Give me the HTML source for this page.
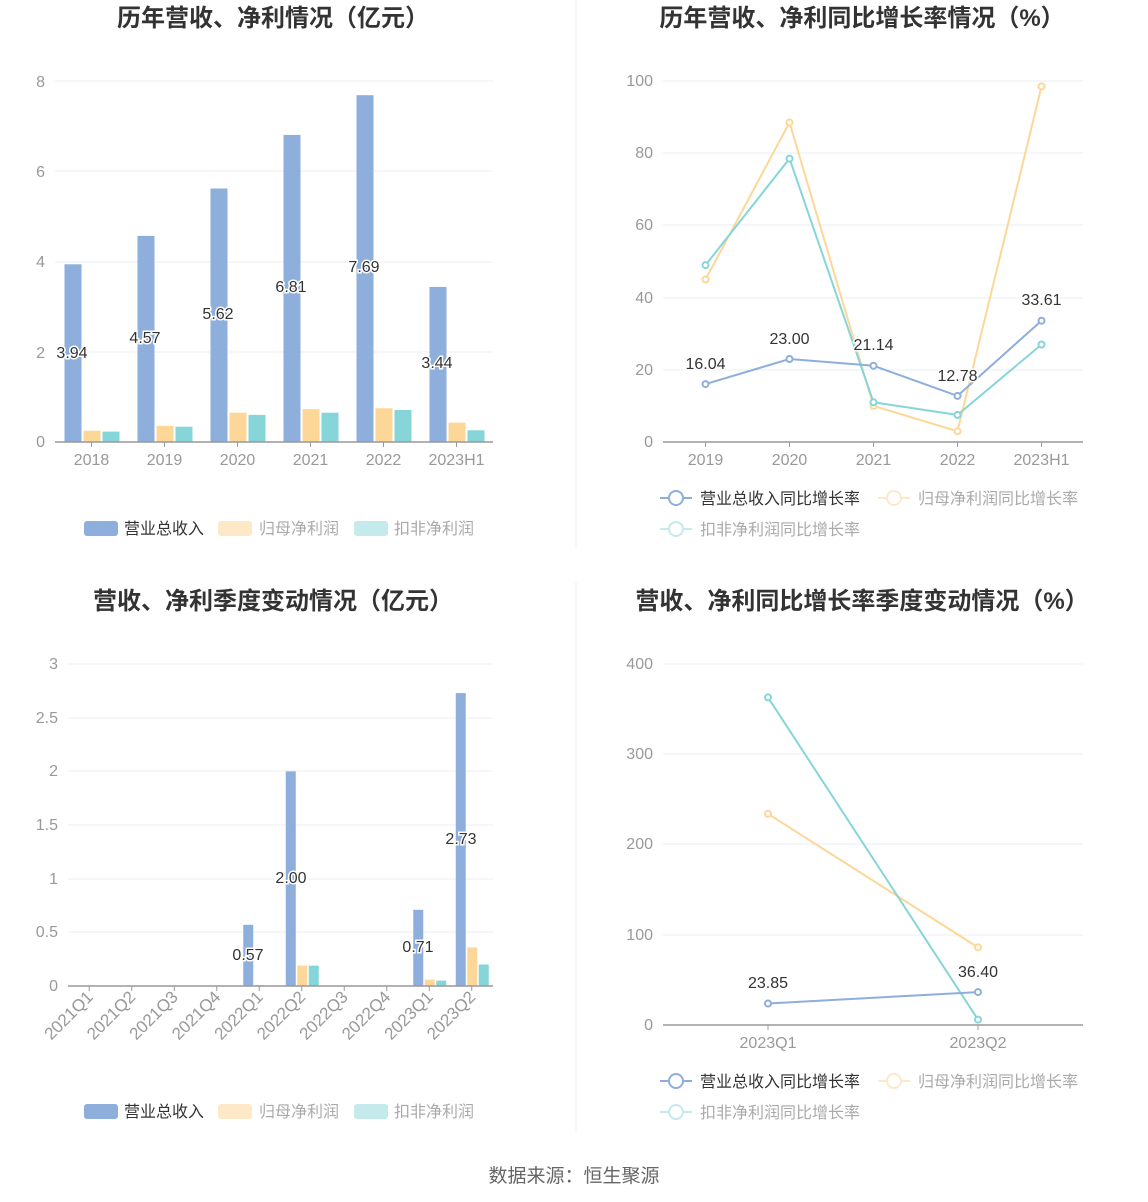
<!DOCTYPE html>
<html><head><meta charset="utf-8"><style>
html,body{margin:0;padding:0;background:#fff;}
svg{display:block;font-family:"Liberation Sans","Noto Sans CJK SC",sans-serif;}
.t{font-size:24px;font-weight:bold;fill:#333;text-anchor:middle}
.ax{font-size:16px;fill:#999}
.r{text-anchor:end}
.m{text-anchor:middle}
.g{stroke:#e8ecf5;stroke-width:1}
.lb{font-size:16px;fill:#333;text-anchor:middle;paint-order:stroke;stroke:#fff;stroke-width:3px}
.lg{font-size:16px;fill:#333}
.lgf{font-size:16px;fill:#aaa}
</style></head><body>
<svg width="1148" height="1202" viewBox="0 0 1148 1202">
<line x1="576" y1="0" x2="576" y2="548" stroke="#eee"/>
<line x1="576" y1="582" x2="576" y2="1132" stroke="#eee"/>
<text class="t" x="273" y="26">历年营收、净利情况（亿元）</text>
<text class="t" x="862" y="26">历年营收、净利同比增长率情况（%）</text>
<text class="t" x="273" y="609">营收、净利季度变动情况（亿元）</text>
<text class="t" x="862" y="609">营收、净利同比增长率季度变动情况（%）</text>

<!-- Top-left -->
<g>
<line class="g" x1="55" y1="81" x2="493" y2="81"/><line class="g" x1="55" y1="171" x2="493" y2="171"/>
<line class="g" x1="55" y1="262" x2="493" y2="262"/><line class="g" x1="55" y1="352" x2="493" y2="352"/>
<g class="ax r"><text x="45" y="87">8</text><text x="45" y="177">6</text><text x="45" y="267">4</text><text x="45" y="358">2</text><text x="45" y="447">0</text></g>
<g fill="#8eaedb">
<rect x="64.5" y="264.3" width="17" height="177.7"/><rect x="137.5" y="235.9" width="17" height="206.1"/>
<rect x="210.5" y="188.5" width="17" height="253.5"/><rect x="283.5" y="134.9" width="17" height="307.1"/>
<rect x="356.5" y="95.2" width="17" height="346.8"/><rect x="429.5" y="286.9" width="17" height="155.1"/></g>
<g fill="#fdd797">
<rect x="83.5" y="430.7" width="17" height="11.3"/><rect x="156.5" y="425.8" width="17" height="16.2"/>
<rect x="229.5" y="412.7" width="17" height="29.3"/><rect x="302.5" y="409.1" width="17" height="32.9"/>
<rect x="375.5" y="408.2" width="17" height="33.8"/><rect x="448.5" y="422.6" width="17" height="19.4"/></g>
<g fill="#86d5d8">
<rect x="102.5" y="431.6" width="17" height="10.4"/><rect x="175.5" y="426.7" width="17" height="15.3"/>
<rect x="248.5" y="414.9" width="17" height="27.1"/><rect x="321.5" y="412.7" width="17" height="29.3"/>
<rect x="394.5" y="410" width="17" height="32"/><rect x="467.5" y="430.3" width="17" height="11.7"/></g>
<line x1="55" y1="442" x2="493" y2="442" stroke="#999" stroke-width="1.5"/>
<g stroke="#999"><line x1="91.5" y1="442" x2="91.5" y2="447"/><line x1="164.5" y1="442" x2="164.5" y2="447"/><line x1="237.5" y1="442" x2="237.5" y2="447"/><line x1="310.5" y1="442" x2="310.5" y2="447"/><line x1="383.5" y1="442" x2="383.5" y2="447"/><line x1="456.5" y1="442" x2="456.5" y2="447"/></g>
<g class="ax m"><text x="91.5" y="465">2018</text><text x="164.5" y="465">2019</text><text x="237.5" y="465">2020</text><text x="310.5" y="465">2021</text><text x="383.5" y="465">2022</text><text x="456.5" y="465">2023H1</text></g>
<g class="lb"><text x="72" y="358">3.94</text><text x="145" y="343">4.57</text><text x="218" y="319">5.62</text><text x="291" y="292">6.81</text><text x="364" y="272">7.69</text><text x="437" y="368">3.44</text></g>
<rect x="84" y="521" width="34" height="15" rx="3" fill="#8eaedb"/><text class="lg" x="124" y="534">营业总收入</text>
<rect x="218" y="521" width="34" height="15" rx="3" fill="#fde9c7"/><text class="lgf" x="259" y="534">归母净利润</text>
<rect x="354" y="521" width="34" height="15" rx="3" fill="#c4eaeb"/><text class="lgf" x="394" y="534">扣非净利润</text>
</g>

<!-- Top-right -->
<g>
<line class="g" x1="663" y1="81" x2="1083" y2="81"/><line class="g" x1="663" y1="153" x2="1083" y2="153"/>
<line class="g" x1="663" y1="225" x2="1083" y2="225"/><line class="g" x1="663" y1="298" x2="1083" y2="298"/><line class="g" x1="663" y1="370" x2="1083" y2="370"/>
<g class="ax r"><text x="653" y="86">100</text><text x="653" y="158">80</text><text x="653" y="230">60</text><text x="653" y="303">40</text><text x="653" y="375">20</text><text x="653" y="447">0</text></g>
<line x1="663" y1="442" x2="1083" y2="442" stroke="#999" stroke-width="1.5"/>
<g stroke="#999"><line x1="705.5" y1="442" x2="705.5" y2="447"/><line x1="789.5" y1="442" x2="789.5" y2="447"/><line x1="873.5" y1="442" x2="873.5" y2="447"/><line x1="957.5" y1="442" x2="957.5" y2="447"/><line x1="1041.5" y1="442" x2="1041.5" y2="447"/></g>
<g class="ax m"><text x="705.5" y="465">2019</text><text x="789.5" y="465">2020</text><text x="873.5" y="465">2021</text><text x="957.5" y="465">2022</text><text x="1041.5" y="465">2023H1</text></g>
<g fill="#fff" stroke-width="2">
<polyline fill="none" stroke="#fdd797" points="705.5,279.5 789.5,122.5 873.5,405.9 957.5,431.2 1041.5,86.4"/>
<polyline fill="none" stroke="#86d5d8" points="705.5,265.1 789.5,158.6 873.5,402.3 957.5,414.9 1041.5,344.5"/>
<polyline fill="none" stroke="#8eaedb" points="705.5,384.1 789.5,359 873.5,365.7 957.5,395.9 1041.5,320.7"/>
<g stroke="#fdd797"><circle cx="705.5" cy="279.5" r="3"/><circle cx="789.5" cy="122.5" r="3"/><circle cx="873.5" cy="405.9" r="3"/><circle cx="957.5" cy="431.2" r="3"/><circle cx="1041.5" cy="86.4" r="3"/></g>
<g stroke="#86d5d8"><circle cx="705.5" cy="265.1" r="3"/><circle cx="789.5" cy="158.6" r="3"/><circle cx="873.5" cy="402.3" r="3"/><circle cx="957.5" cy="414.9" r="3"/><circle cx="1041.5" cy="344.5" r="3"/></g>
<g stroke="#8eaedb"><circle cx="705.5" cy="384.1" r="3"/><circle cx="789.5" cy="359" r="3"/><circle cx="873.5" cy="365.7" r="3"/><circle cx="957.5" cy="395.9" r="3"/><circle cx="1041.5" cy="320.7" r="3"/></g>
</g>
<g class="lb"><text x="705.5" y="369">16.04</text><text x="789.5" y="344">23.00</text><text x="873.5" y="350">21.14</text><text x="957.5" y="381">12.78</text><text x="1041.5" y="305">33.61</text></g>
<g fill="#fff" stroke-width="2">
<line x1="660" y1="498" x2="692" y2="498" stroke="#8eaedb"/><circle cx="676" cy="498" r="7" stroke="#8eaedb"/>
<line x1="878" y1="498" x2="910" y2="498" stroke="#fde9c7"/><circle cx="894" cy="498" r="7" stroke="#fde9c7"/>
<line x1="660" y1="529" x2="692" y2="529" stroke="#c4eaeb"/><circle cx="676" cy="529" r="7" stroke="#c4eaeb"/>
</g>
<text class="lg" x="700" y="504">营业总收入同比增长率</text>
<text class="lgf" x="918" y="504">归母净利润同比增长率</text>
<text class="lgf" x="700" y="535">扣非净利润同比增长率</text>
</g>

<!-- Bottom-left -->
<g>
<line class="g" x1="68" y1="664" x2="493" y2="664"/><line class="g" x1="68" y1="718" x2="493" y2="718"/>
<line class="g" x1="68" y1="771" x2="493" y2="771"/><line class="g" x1="68" y1="825" x2="493" y2="825"/>
<line class="g" x1="68" y1="879" x2="493" y2="879"/><line class="g" x1="68" y1="932" x2="493" y2="932"/>
<g class="ax r"><text x="58" y="669">3</text><text x="58" y="723">2.5</text><text x="58" y="776">2</text><text x="58" y="830">1.5</text><text x="58" y="884">1</text><text x="58" y="937">0.5</text><text x="58" y="991">0</text></g>
<g fill="#8eaedb"><rect x="243.25" y="924.8" width="10" height="61.2"/><rect x="285.75" y="771.4" width="10" height="214.6"/><rect x="413.25" y="909.8" width="10" height="76.2"/><rect x="455.75" y="693.1" width="10" height="292.9"/></g>
<g fill="#fdd797"><rect x="254.75" y="985" width="10" height="1"/><rect x="297.25" y="965.6" width="10" height="20.4"/><rect x="424.75" y="979.6" width="10" height="6.4"/><rect x="467.25" y="947.4" width="10" height="38.6"/></g>
<g fill="#86d5d8"><rect x="266.25" y="985.5" width="10" height="0.5"/><rect x="308.75" y="965.6" width="10" height="20.4"/><rect x="436.25" y="980.6" width="10" height="5.4"/><rect x="478.75" y="964.5" width="10" height="21.5"/></g>
<line x1="68" y1="986" x2="493" y2="986" stroke="#999" stroke-width="1.5"/>
<g stroke="#999"><line x1="89.25" y1="986" x2="89.25" y2="991"/><line x1="131.75" y1="986" x2="131.75" y2="991"/><line x1="174.25" y1="986" x2="174.25" y2="991"/><line x1="216.75" y1="986" x2="216.75" y2="991"/><line x1="259.25" y1="986" x2="259.25" y2="991"/><line x1="301.75" y1="986" x2="301.75" y2="991"/><line x1="344.25" y1="986" x2="344.25" y2="991"/><line x1="386.75" y1="986" x2="386.75" y2="991"/><line x1="429.25" y1="986" x2="429.25" y2="991"/><line x1="471.75" y1="986" x2="471.75" y2="991"/></g>
<g class="ax r" style="font-size:17px">
<text transform="translate(94,998) rotate(-45)">2021Q1</text><text transform="translate(136.5,998) rotate(-45)">2021Q2</text>
<text transform="translate(179,998) rotate(-45)">2021Q3</text><text transform="translate(221.5,998) rotate(-45)">2021Q4</text>
<text transform="translate(264,998) rotate(-45)">2022Q1</text><text transform="translate(306.5,998) rotate(-45)">2022Q2</text>
<text transform="translate(349,998) rotate(-45)">2022Q3</text><text transform="translate(391.5,998) rotate(-45)">2022Q4</text>
<text transform="translate(434,998) rotate(-45)">2023Q1</text><text transform="translate(476.5,998) rotate(-45)">2023Q2</text></g>
<g class="lb"><text x="248" y="960">0.57</text><text x="291" y="883">2.00</text><text x="418" y="952">0.71</text><text x="461" y="844">2.73</text></g>
<rect x="84" y="1104" width="34" height="15" rx="3" fill="#8eaedb"/><text class="lg" x="124" y="1117">营业总收入</text>
<rect x="218" y="1104" width="34" height="15" rx="3" fill="#fde9c7"/><text class="lgf" x="259" y="1117">归母净利润</text>
<rect x="354" y="1104" width="34" height="15" rx="3" fill="#c4eaeb"/><text class="lgf" x="394" y="1117">扣非净利润</text>
</g>

<!-- Bottom-right -->
<g>
<line class="g" x1="663" y1="664" x2="1083" y2="664"/><line class="g" x1="663" y1="754" x2="1083" y2="754"/>
<line class="g" x1="663" y1="844" x2="1083" y2="844"/><line class="g" x1="663" y1="935" x2="1083" y2="935"/>
<g class="ax r"><text x="653" y="669">400</text><text x="653" y="759">300</text><text x="653" y="849">200</text><text x="653" y="940">100</text><text x="653" y="1030">0</text></g>
<line x1="663" y1="1025" x2="1083" y2="1025" stroke="#999" stroke-width="1.5"/>
<g stroke="#999"><line x1="768" y1="1025" x2="768" y2="1030"/><line x1="978" y1="1025" x2="978" y2="1030"/></g>
<g class="ax m"><text x="768" y="1048">2023Q1</text><text x="978" y="1048">2023Q2</text></g>
<g fill="#fff" stroke-width="2">
<line x1="768" y1="813.8" x2="978" y2="947.4" stroke="#fdd797"/>
<line x1="768" y1="697.4" x2="978" y2="1019.6" stroke="#86d5d8"/>
<line x1="768" y1="1003.5" x2="978" y2="992.1" stroke="#8eaedb"/>
<circle cx="768" cy="813.8" r="3" stroke="#fdd797"/><circle cx="978" cy="947.4" r="3" stroke="#fdd797"/>
<circle cx="768" cy="697.4" r="3" stroke="#86d5d8"/><circle cx="978" cy="1019.6" r="3" stroke="#86d5d8"/>
<circle cx="768" cy="1003.5" r="3" stroke="#8eaedb"/><circle cx="978" cy="992.1" r="3" stroke="#8eaedb"/>
</g>
<g class="lb"><text x="768" y="988">23.85</text><text x="978" y="977">36.40</text></g>
<g fill="#fff" stroke-width="2">
<line x1="660" y1="1081" x2="692" y2="1081" stroke="#8eaedb"/><circle cx="676" cy="1081" r="7" stroke="#8eaedb"/>
<line x1="878" y1="1081" x2="910" y2="1081" stroke="#fde9c7"/><circle cx="894" cy="1081" r="7" stroke="#fde9c7"/>
<line x1="660" y1="1112" x2="692" y2="1112" stroke="#c4eaeb"/><circle cx="676" cy="1112" r="7" stroke="#c4eaeb"/>
</g>
<text class="lg" x="700" y="1087">营业总收入同比增长率</text>
<text class="lgf" x="918" y="1087">归母净利润同比增长率</text>
<text class="lgf" x="700" y="1118">扣非净利润同比增长率</text>
</g>

<text x="574" y="1182" style="font-size:19px;fill:#666;text-anchor:middle">数据来源：恒生聚源</text>
</svg>
</body></html>
